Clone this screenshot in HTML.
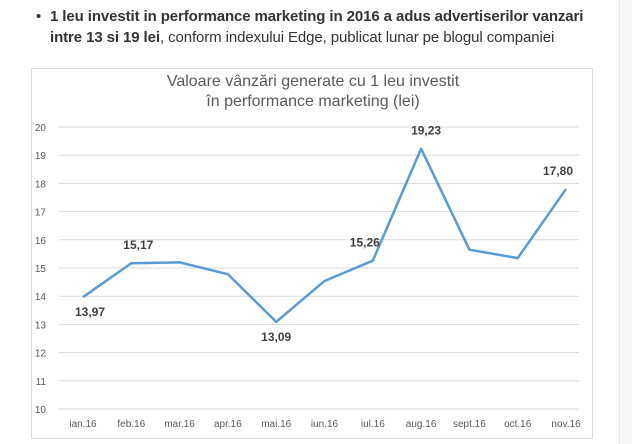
<!DOCTYPE html>
<html><head><meta charset="utf-8"><style>
body{margin:0;width:632px;height:444px;background:#fff;font-family:"Liberation Sans",sans-serif;overflow:hidden;position:relative}
#hdr{position:absolute;left:50px;top:6px;font-size:15px;line-height:21px;color:#333;width:580px;white-space:nowrap;letter-spacing:-0.1px}
#hdr .dot{position:absolute;left:-14px;top:0}
#box{position:absolute;left:31px;top:68px;width:562px;height:371px;border:1px solid #d9d9d9;box-sizing:border-box}
#edge{position:absolute;left:619px;top:0;width:13px;height:444px;background:#f7f7f7;border-left:1px solid #e6e6e6}
</style></head><body>
<div id="edge"></div>
<div id="hdr"><span class="dot">•</span><b>1 leu investit in performance marketing in 2016 a adus advertiserilor vanzari</b><br><b>intre 13 si 19 lei</b>, conform indexului Edge, publicat lunar pe blogul companiei</div>
<div id="box"></div>
<svg id="chart" width="632" height="444" style="position:absolute;left:0;top:0">
<text x="313" y="86" text-anchor="middle" font-size="16" fill="#595959">Valoare vânzări generate cu 1 leu investit</text>
<text x="313" y="106" text-anchor="middle" font-size="16" fill="#595959">în performance marketing (lei)</text>
<g id="grid"></g><g id="xl"></g><g id="ser"></g>
</svg>
<script>
const categories=["ian.16","feb.16","mar.16","apr.16","mai.16","iun.16","iul.16","aug.16","sept.16","oct.16","nov.16"];
const values=[13.97,15.17,15.2,14.78,13.09,14.54,15.26,19.23,15.65,15.35,17.80];
const labels=["13,97","15,17",null,null,"13,09",null,"15,26","19,23",null,null,"17,80"];
const yTicks=[10,11,12,13,14,15,16,17,18,19,20];
const NS="http://www.w3.org/2000/svg";
const y=v=>409-(v-10)*28.2;
const x=i=>83+i*48.3;
function mk(t,a,p){const e=document.createElementNS(NS,t);for(const k in a)e.setAttribute(k,a[k]);p.appendChild(e);return e;}
const g=document.getElementById('grid'),xl=document.getElementById('xl'),s=document.getElementById('ser');
yTicks.forEach(v=>{
 const l=mk('line',{x1:59,x2:579,y1:y(v),y2:y(v),stroke:'#d9d9d9','stroke-width':1},g);
 
 
 const t=mk('text',{x:46,y:y(v)+4,'text-anchor':'end','font-size':10,fill:'#595959'},g);t.textContent=v;
 
 
});
categories.forEach((c,i)=>{
 const t=mk('text',{x:x(i),y:427,'text-anchor':'middle','font-size':10,fill:'#595959'},xl);t.textContent=c;
 
 
});
const pl=mk('polyline',{points:values.map((v,i)=>x(i)+','+y(v)).join(' '),fill:'none',stroke:'#5b9bd5','stroke-width':2.5,'stroke-linejoin':'round'},s);


const offs={0:[7,19],1:[7,-14],4:[0,19],6:[-8,-14],7:[5,-14],10:[-8,-14]};
labels.forEach((lb,i)=>{
 if(!lb)return;
 const o=offs[i]||[0,-12];
 const t=mk('text',{x:x(i)+o[0],y:y(values[i])+o[1],'text-anchor':'middle','font-size':12,'font-weight':'bold',fill:'#404040'},s);t.textContent=lb;
 
 
});
</script>
</body></html>
